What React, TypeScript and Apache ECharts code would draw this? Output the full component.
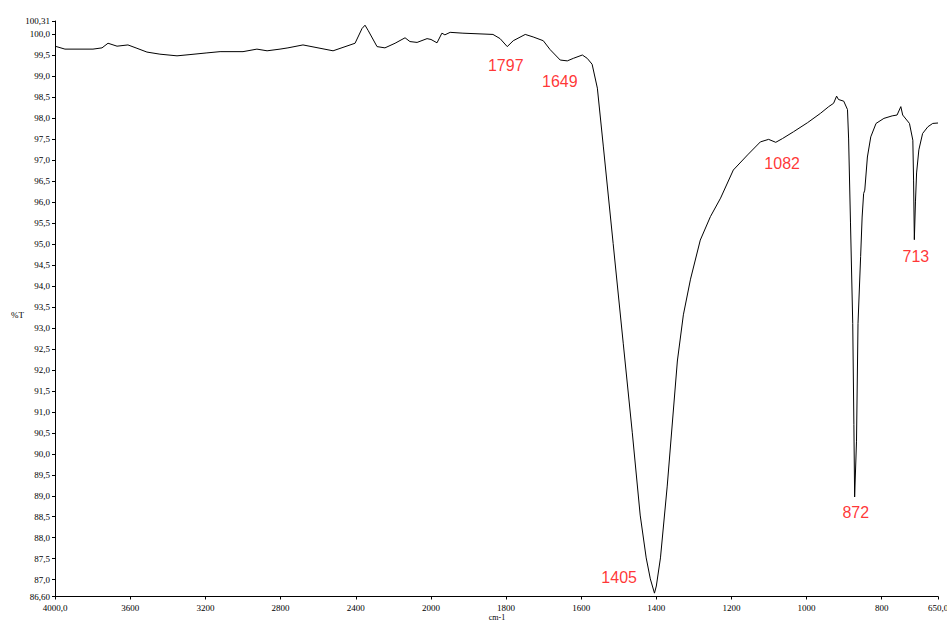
import React, { useEffect, useRef } from "react";
import * as echarts from "echarts";

// IR spectrum: wavenumber (cm-1) and transmittance (%T)
const wavenumbers = [
  4000, 3947, 3798, 3750, 3718, 3670, 3612, 3564, 3511, 3442, 3351, 3282, 3192, 3122, 3000,
  2926, 2872, 2803, 2761, 2681, 2521, 2404, 2367, 2351, 2335, 2287, 2245, 2191, 2138, 2112,
  2074, 2021, 2000, 1984, 1971, 1963, 1949, 1915, 1835, 1816, 1797, 1781, 1749, 1728, 1701,
  1683, 1656, 1637, 1621, 1597, 1584, 1571, 1557, 1541, 1515, 1488, 1464, 1443, 1427, 1416,
  1405, 1400, 1389, 1371, 1344, 1328, 1309, 1283, 1256, 1229, 1195, 1157, 1123, 1101, 1082, 1064,
  1035, 997, 963, 941, 928, 920, 915, 901, 891, 888, 883, 877, 874, 872, 867,
  863, 856, 852, 848, 845, 838, 829, 815, 794, 772, 759, 749, 744, 726, 717,
  715, 713, 710, 707, 701, 691, 677, 664, 650,
];
const transmittance = [
  99.71, 99.64, 99.64, 99.67, 99.78, 99.71, 99.74, 99.66, 99.57, 99.52, 99.48, 99.51, 99.55, 99.58, 99.58,
  99.64, 99.6, 99.64, 99.67, 99.74, 99.6, 99.78, 100.13, 100.21, 100.09, 99.7, 99.67, 99.78, 99.91, 99.82,
  99.8, 99.89, 99.87, 99.79, 100.02, 99.98, 100.04, 100.02, 99.99, 99.89, 99.7, 99.84, 99.99, 99.93, 99.84,
  99.63, 99.38, 99.36, 99.42, 99.5, 99.42, 99.28, 98.71, 97.31, 95.01, 92.62, 90.5, 88.54, 87.52, 87.02,
  86.68, 86.85, 87.52, 89.23, 92.21, 93.31, 94.16, 95.09, 95.65, 96.09, 96.76, 97.12, 97.43, 97.49, 97.42, 97.51,
  97.67, 97.89, 98.11, 98.27, 98.35, 98.52, 98.44, 98.4, 98.2, 97.5, 95.5, 93.1, 90.7, 88.97, 90.3,
  93.1, 94.7, 95.64, 96.2, 96.28, 97.07, 97.55, 97.87, 97.99, 98.05, 98.07, 98.27, 98.07, 97.87, 97.47,
  96.5, 95.1, 96.0, 96.69, 97.24, 97.63, 97.79, 97.87, 97.88,
];

const Y_MIN = 86.6;
const Y_MAX = 100.31;
const yTicks = [
  86.6, 87.0, 87.5, 88.0, 88.5, 89.0, 89.5, 90.0, 90.5, 91.0, 91.5, 92.0, 92.5, 93.0, 93.5,
  94.0, 94.5, 95.0, 95.5, 96.0, 96.5, 97.0, 97.5, 98.0, 98.5, 99.0, 99.5, 100.0, 100.31,
];
const xTicksHigh = [4000, 3600, 3200, 2800, 2400, 2000];
const xTicksLow = [1800, 1600, 1400, 1200, 1000, 800, 650];

const peakLabels = ["1797", "1649", "1405", "1082", "872", "713"];
const peakLabelWavenumbers = [1801, 1657, 1499, 1065, 869, 709];
const peakLabelTransmittance = [99.24, 98.86, 87.06, 96.91, 88.61, 94.71];

const yAxisTitle = "%T";
const xAxisTitle = "cm-1";

const AXIS_FONT = "'Liberation Serif', 'Times New Roman', serif";

function fmtY(v: number): string {
  const s = Math.abs(v - Y_MIN) < 1e-6 || Math.abs(v - Y_MAX) < 1e-6 ? v.toFixed(2) : v.toFixed(1);
  return s.replace(".", ",");
}
function fmtX(v: number): string {
  if (v === 4000 || v === 650) return v.toFixed(1).replace(".", ",");
  return String(v);
}

export default function App() {
  const ref = useRef<HTMLDivElement>(null);

  useEffect(() => {
    if (!ref.current) return;
    const chart = echarts.init(ref.current, undefined, { renderer: "svg" });

    const high: [number, number][] = [];
    const low: [number, number][] = [];
    wavenumbers.forEach((w, i) => {
      if (w >= 2000) high.push([w, transmittance[i]]);
      if (w <= 2000) low.push([w, transmittance[i]]);
    });

    const axisLine = { show: true, onZero: false, lineStyle: { color: "#000", width: 1 } };
    const labelStyle = { color: "#000", fontSize: 9, fontFamily: AXIS_FONT };

    chart.setOption({
      animation: false,
      backgroundColor: "#fff",
      grid: [
        { left: 55, top: 21, width: 376, height: 575.5, containLabel: false, outerBoundsMode: "none" },
        { left: 431, top: 21, width: 507, height: 575.5, containLabel: false, outerBoundsMode: "none" },
      ],
      xAxis: [
        {
          type: "value",
          gridIndex: 0,
          min: 2000,
          max: 4000,
          inverse: true,
          axisLine,
          splitLine: { show: false },
          axisTick: { show: true, length: 3, customValues: xTicksHigh, lineStyle: { color: "#000" } },
          axisLabel: {
            ...labelStyle,
            margin: 7,
            customValues: xTicksHigh,
            showMinLabel: true,
            showMaxLabel: true,
            formatter: (v: number) => fmtX(v),
          },
        },
        {
          type: "value",
          gridIndex: 1,
          min: 650,
          max: 2000,
          inverse: true,
          axisLine,
          splitLine: { show: false },
          axisTick: { show: true, length: 3, customValues: xTicksLow, lineStyle: { color: "#000" } },
          axisLabel: {
            ...labelStyle,
            margin: 7,
            customValues: xTicksLow,
            showMinLabel: true,
            showMaxLabel: true,
            formatter: (v: number) => fmtX(v),
          },
        },
      ],
      yAxis: [
        {
          type: "value",
          gridIndex: 0,
          min: Y_MIN,
          max: Y_MAX,
          axisLine,
          splitLine: { show: false },
          axisTick: { show: true, length: 3, customValues: yTicks, lineStyle: { color: "#000" } },
          axisLabel: {
            ...labelStyle,
            margin: 5,
            customValues: yTicks,
            showMinLabel: true,
            showMaxLabel: true,
            formatter: (v: number) => fmtY(v),
          },
        },
        {
          type: "value",
          gridIndex: 1,
          min: Y_MIN,
          max: Y_MAX,
          show: false,
        },
      ],
      graphic: [
        {
          type: "text",
          left: 11,
          top: 310,
          style: { text: yAxisTitle, fill: "#000", fontSize: 9, fontFamily: AXIS_FONT },
        },
        {
          type: "text",
          x: 497,
          y: 617.5,
          style: {
            text: xAxisTitle,
            fill: "#000",
            fontSize: 8,
            fontFamily: AXIS_FONT,
            align: "center",
            verticalAlign: "middle",
          },
        },
      ],
      series: [
        {
          type: "line",
          xAxisIndex: 0,
          yAxisIndex: 0,
          data: high,
          showSymbol: false,
          symbol: "none",
          lineStyle: { color: "#000", width: 1 },
          silent: true,
        },
        {
          type: "line",
          xAxisIndex: 1,
          yAxisIndex: 1,
          data: low,
          showSymbol: false,
          symbol: "none",
          lineStyle: { color: "#000", width: 1 },
          silent: true,
        },
        {
          type: "scatter",
          xAxisIndex: 1,
          yAxisIndex: 1,
          symbolSize: 1,
          itemStyle: { color: "transparent" },
          silent: true,
          z: 10,
          data: peakLabels.map((name, i) => ({
            name,
            value: [peakLabelWavenumbers[i], peakLabelTransmittance[i]],
          })),
          label: {
            show: true,
            position: "inside",
            formatter: "{b}",
            color: "#ff0000",
            fontSize: 16,
            fontFamily: "'Liberation Sans', Arial, sans-serif",
          },
        },
      ],
    });

    return () => chart.dispose();
  }, []);

  return (
    <div
      ref={ref}
      style={{ position: "absolute", left: 0, top: 0, width: 947, height: 622 }}
    />
  );
}
